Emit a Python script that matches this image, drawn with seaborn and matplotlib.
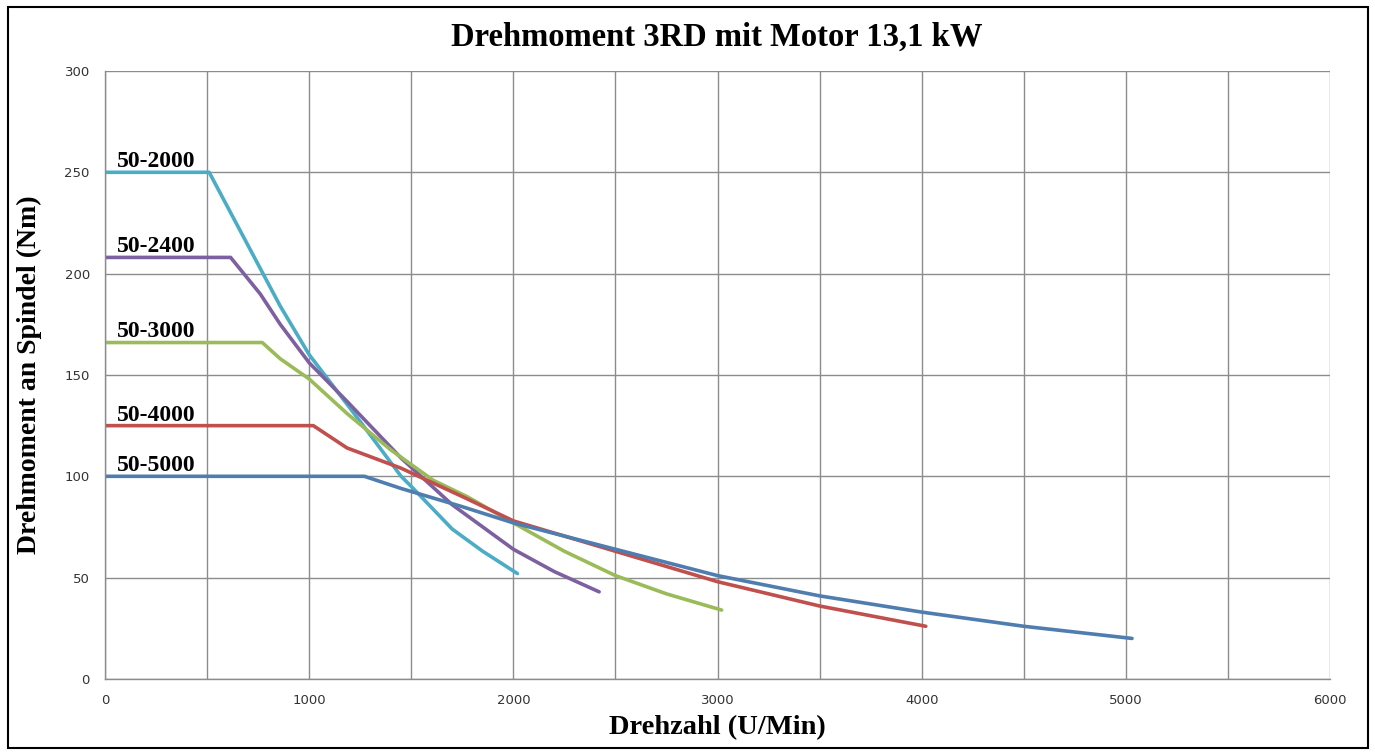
import pandas as pd
import matplotlib
matplotlib.use("Agg")
import matplotlib.pyplot as plt
import seaborn as sns
from matplotlib.patches import Rectangle

# ---- data ----
rpm_2000 = [0, 510, 858, 1000, 1250, 1450, 1500, 1700, 1850, 2020]
nm_2000 = [250, 250, 184, 160, 127, 100, 95, 74, 63, 52]

rpm_2400 = [0, 615, 760, 858, 1000, 1185, 1450, 1700, 2000, 2200, 2420]
nm_2400 = [208, 208, 190, 175, 156, 137, 109, 86, 64, 53, 43]

rpm_3000 = [0, 770, 858, 1000, 1185, 1400, 1608, 1773, 2000, 2250, 2500, 2750, 3020]
nm_3000 = [166, 166, 158, 148, 131, 113, 98, 90, 77, 63, 51, 42, 34]

rpm_4000 = [0, 1020, 1185, 1450, 1750, 2000, 2500, 3000, 3500, 4020]
nm_4000 = [125, 125, 114, 104, 90, 78, 63, 48, 36, 26]

rpm_5000 = [0, 1270, 1450, 1750, 2000, 2500, 3000, 3500, 4000, 4500, 5030]
nm_5000 = [100, 100, 94, 85, 77, 64, 51, 41, 33, 26, 20]

series_names = ["50-2000", "50-2400", "50-3000", "50-4000", "50-5000"]
series_rpm = [rpm_2000, rpm_2400, rpm_3000, rpm_4000, rpm_5000]
series_nm = [nm_2000, nm_2400, nm_3000, nm_4000, nm_5000]
series_colors = ["#4BACC6", "#7D60A0", "#9BBB59", "#C0504D", "#4F7DAF"]

x_ticks = list(range(0, 6001, 500))
x_labels = [str(t) if t % 1000 == 0 else "" for t in x_ticks]
y_ticks = list(range(0, 301, 50))

# long-form table for seaborn
rows = []
for name, xs, ys in zip(series_names, series_rpm, series_nm):
    for x, y in zip(xs, ys):
        rows.append({"Serie": name, "Drehzahl": x, "Drehmoment": y})
df = pd.DataFrame(rows)

# ---- plot ----
sns.set_style("white")
plt.rcParams["font.family"] = ["DejaVu Sans"]
plt.rcParams["text.color"] = "black"
plt.rcParams["axes.labelcolor"] = "black"
serif = ["Liberation Serif", "DejaVu Serif"]

fig = plt.figure(figsize=(13.75, 7.55), dpi=100)
ax = fig.add_axes([0.0764, 0.1007, 0.8909, 0.8053])

sns.lineplot(data=df, x="Drehzahl", y="Drehmoment", hue="Serie",
             palette=dict(zip(series_names, series_colors)),
             sort=False, estimator=None, units="Serie", linewidth=2.6,
             legend=False, ax=ax)

for name, ys in zip(series_names, series_nm):
    ax.text(60, ys[0] + 2.5, name, family=serif, fontweight="bold",
            fontsize=17, ha="left", va="baseline", color="black")

ax.set_xlim(0, 6000)
ax.set_ylim(0, 300)
ax.set_xticks(x_ticks)
ax.set_xticklabels(x_labels)
ax.set_yticks(y_ticks)
ax.grid(True, color="#8c8c8c", linewidth=1.0)
ax.set_axisbelow(True)
for s in ["top", "right"]:
    ax.spines[s].set_visible(False)
for s in ["left", "bottom"]:
    ax.spines[s].set_color("#8c8c8c")
    ax.spines[s].set_linewidth(1.0)
ax.tick_params(axis="both", which="major", length=5, width=1.0,
               color="#8c8c8c", labelsize=9.5, labelcolor="#333333",
               direction="out", pad=6)

ax.set_xlabel("Drehzahl (U/Min)", family=serif, fontweight="bold",
              fontsize=20.5, labelpad=6, color="black")
ax.set_ylabel("Drehmoment an Spindel (Nm)", family=serif, fontweight="bold",
              fontsize=20, labelpad=16, color="black")
fig.text(0.5215, 0.950, "Drehmoment 3RD mit Motor 13,1 kW", family=serif,
         fontweight="bold", fontsize=23.5, ha="center", va="center",
         color="black")

# outer border of the picture
fig.patches.append(Rectangle((0.006, 0.009), 0.989, 0.982, transform=fig.transFigure,
                             fill=False, edgecolor="black", linewidth=1.5))

fig.savefig("out.png", dpi=100)
